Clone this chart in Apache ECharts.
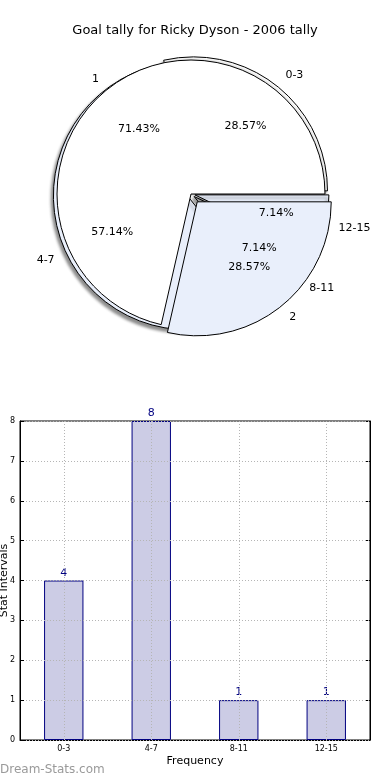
<!DOCTYPE html>
<html><head><meta charset="utf-8">
<script src="https://cdn.jsdelivr.net/npm/echarts@6/dist/echarts.min.js"></script>
<style>html,body{margin:0;padding:0;background:#fff}#c{width:390px;height:780px}</style>
</head><body><div id="c"></div>
<script>
const chartTitle = 'Goal tally for Ricky Dyson - 2006 tally';
const goalNames = ['1', '2'];
const goalCounts = [10, 4];
const intervalNames = ['0-3', '4-7', '8-11', '12-15'];
const intervalCounts = [4, 8, 1, 1];
const barCategories = ['0-3', '4-7', '8-11', '12-15'];
const barValues = [4, 8, 1, 1];
const yTicks = [0, 1, 2, 3, 4, 5, 6, 7, 8];

const FONT = 'DejaVu Sans';
const CX = 191, CY = 194, R = 134;
const BLUE = '#e9effb';

function pieData(names, vals, colors, selIdx) {
  return names.map((n, i) => ({
    name: n, value: vals[i],
    selected: selIdx === 'all' ? true : i === selIdx,
    itemStyle: colors ? { color: colors[i % colors.length] } : undefined
  }));
}

function labelSeries(names, vals, selIdx, offset, kind) {
  const inside = kind === 'pct';
  const total = vals.reduce((a, b) => a + b, 0);
  return {
    type: 'pie', z: 10, silent: true,
    center: [CX, CY],
    radius: inside ? [0, R * 1.2] : [0, R],
    startAngle: 0, clockwise: false,
    selectedMode: 'multiple', selectedOffset: offset,
    avoidLabelOverlap: false,
    itemStyle: { color: 'rgba(0,0,0,0)', borderWidth: 0 },
    emphasis: { disabled: true },
    label: inside ? {
      show: true, position: 'inside',
      formatter: p => (p.value / total * 100).toFixed(2) + '%',
      color: '#000', fontSize: 11, fontFamily: FONT
    } : {
      show: true, position: 'outside', formatter: '{b}',
      color: '#000', fontSize: 11, fontFamily: FONT,
      distanceToLabelLine: 0
    },
    labelLine: { show: false, length: R * 0.1, length2: 0 },
    data: pieData(names, vals, null, selIdx)
  };
}

const option = {
  animation: false,
  backgroundColor: '#fff',
  title: {
    text: chartTitle, left: 'center', top: 19,
    textStyle: { fontFamily: FONT, fontSize: 13, fontWeight: 'normal', color: '#000' }
  },
  graphic: [{
    type: 'text', left: 0, top: 764,
    style: { text: 'Dream-Stats.com', fill: '#9a9a9a', font: '12px "DejaVu Sans"' }
  }],
  grid: {
    left: 20, right: 20, top: 421, bottom: 40,
    containLabel: false, outerBoundsMode: 'none',
    show: true, borderColor: '#000', borderWidth: 1
  },
  xAxis: {
    type: 'category', data: barCategories,
    axisLine: { lineStyle: { color: '#000' } },
    axisTick: { inside: true, alignWithLabel: true, length: 4, lineStyle: { color: '#000' } },
    axisLabel: { fontSize: 8, color: '#000', margin: 5, fontFamily: FONT },
    splitLine: { show: false },
    name: 'Frequency', nameLocation: 'middle', nameGap: 16, nameMoveOverlap: false,
    nameTextStyle: { fontSize: 11, color: '#000', fontFamily: FONT }
  },
  yAxis: [{
    type: 'value', min: yTicks[0], max: yTicks[yTicks.length - 1], interval: 1, z: 5,
    axisLine: { show: true, lineStyle: { color: '#000' } },
    axisTick: { show: true, inside: true, length: 4, lineStyle: { color: '#000' } },
    axisLabel: { fontSize: 8, color: '#000', margin: 5, fontFamily: FONT },
    splitLine: { show: true, lineStyle: { type: [1, 2], color: '#b5b5b5', width: 1 } },
    name: 'Stat Intervals', nameLocation: 'middle', nameGap: 10, nameRotate: 90, nameMoveOverlap: false,
    nameTextStyle: { fontSize: 11, color: '#000', fontFamily: FONT }
  }, {
    type: 'value', position: 'right', min: yTicks[0], max: yTicks[yTicks.length - 1], interval: 1,
    axisLine: { show: true, lineStyle: { color: '#000' } },
    axisTick: { show: true, inside: true, length: 4, lineStyle: { color: '#000' } },
    axisLabel: { show: false }, splitLine: { show: false }
  }],
  series: [
    {
      type: 'pie', z: 1, silent: true,
      center: [CX, CY], radius: [0, R],
      startAngle: 0, clockwise: false,
      selectedMode: 'multiple', selectedOffset: 4,
      label: { show: false }, labelLine: { show: false },
      emphasis: { disabled: true },
      itemStyle: {
        borderColor: '#000', borderWidth: 1,
        shadowBlur: 3, shadowOffsetX: -2, shadowOffsetY: 3, shadowColor: 'rgba(0,0,0,0.45)'
      },
      data: pieData(intervalNames, intervalCounts, ['#ffffff', BLUE, '#ffffff', BLUE], 'all')
    },
    {
      type: 'pie', z: 2, silent: true,
      center: [CX, CY], radius: [0, R],
      startAngle: 0, clockwise: false,
      selectedMode: 'multiple', selectedOffset: 10,
      label: { show: false }, labelLine: { show: false },
      emphasis: { disabled: true },
      itemStyle: { borderColor: '#000', borderWidth: 1 },
      data: pieData(goalNames, goalCounts, ['#ffffff', BLUE], 1)
    },
    labelSeries(intervalNames, intervalCounts, 'all', 4, 'name'),
    labelSeries(intervalNames, intervalCounts, 'all', 4, 'pct'),
    labelSeries(goalNames, goalCounts, 1, 10, 'name'),
    labelSeries(goalNames, goalCounts, 1, 10, 'pct'),
    {
      type: 'bar', data: barValues, barWidth: '45%', z: 3,
      itemStyle: { color: '#ccccE5', borderColor: '#000080', borderWidth: 1 },
      label: { show: true, position: 'top', distance: 2, color: '#000080', fontSize: 11, fontFamily: FONT },
      markLine: {
        silent: true, symbol: 'none', animation: false,
        label: { show: false },
        lineStyle: { type: [1, 2], color: '#b5b5b5', width: 1 },
        data: barCategories.map(c => ({ xAxis: c }))
      }
    }
  ]
};
const chart = echarts.init(document.getElementById('c'), null, { renderer: 'canvas' });
chart.setOption(option);
</script>
</body></html>
